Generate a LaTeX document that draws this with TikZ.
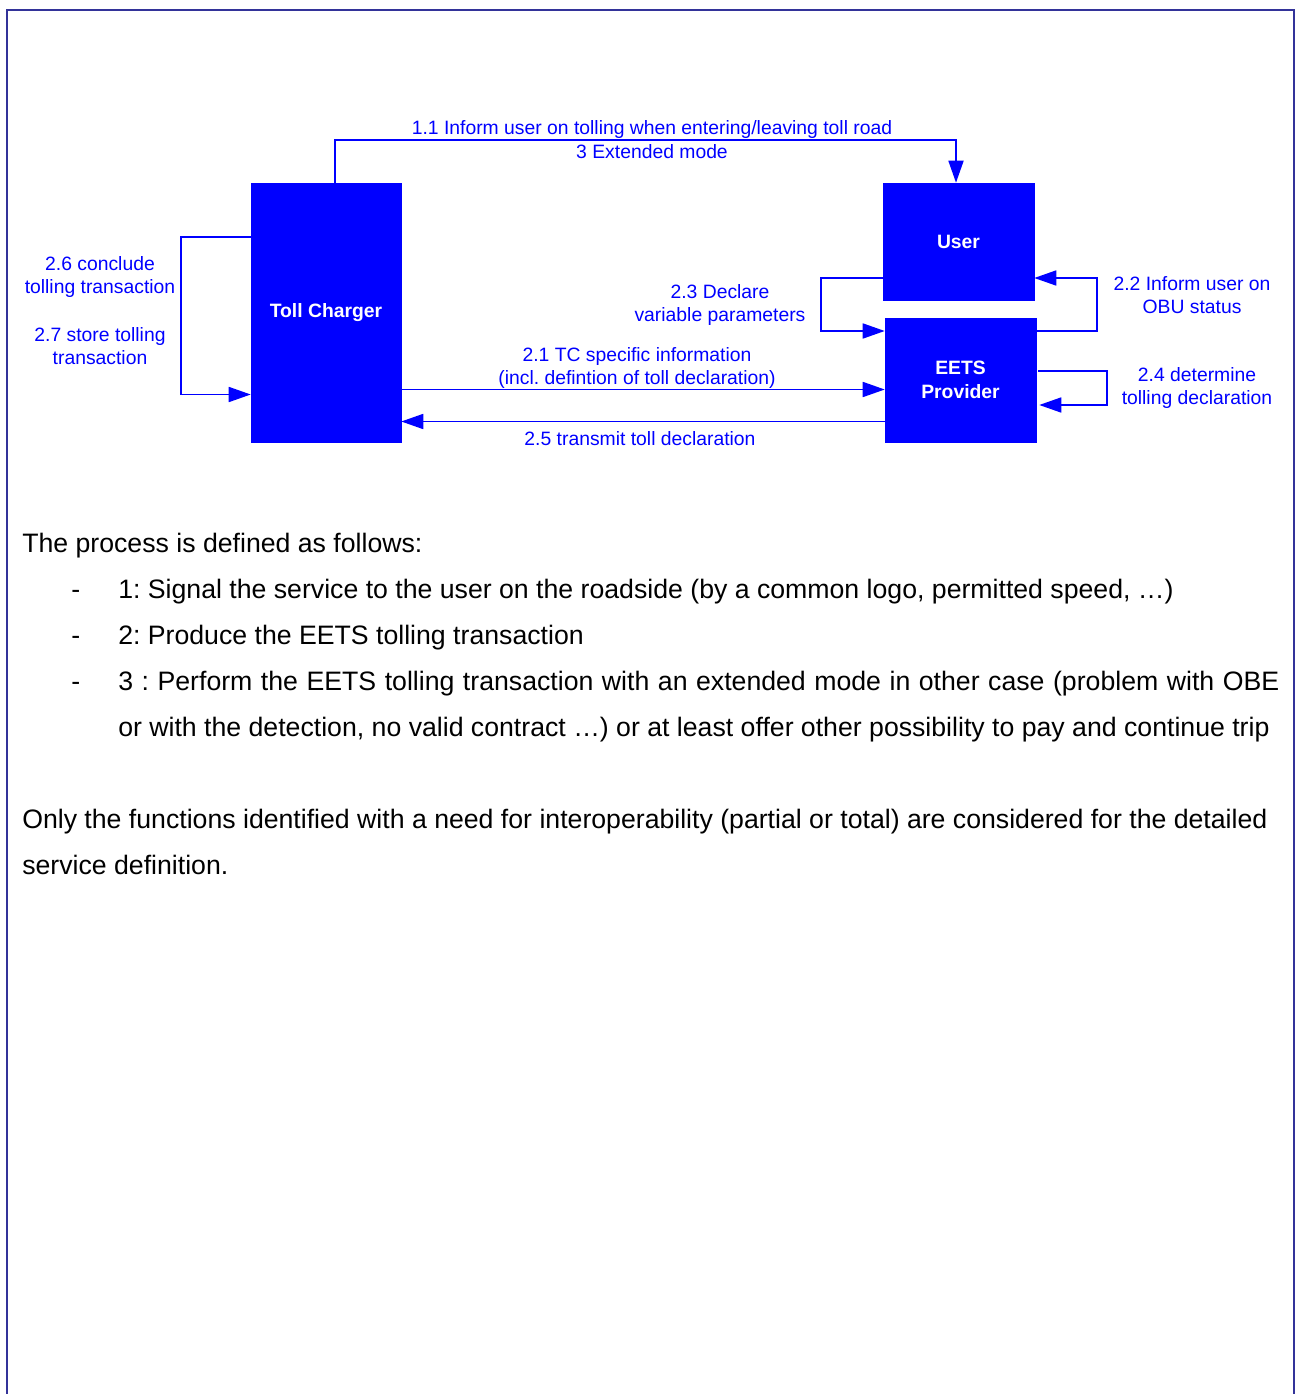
\documentclass[tikz,border=0pt]{standalone}
\usepackage{fontspec}
\setmainfont{Liberation Sans}
\usetikzlibrary{arrows.meta,calc}
\definecolor{framecol}{RGB}{51,51,153}
\definecolor{flowblue}{RGB}{0,0,255}
\frenchspacing
\begin{document}
\begin{tikzpicture}[x=0.75pt,y=0.75pt,
  actor/.style={draw=flowblue, fill=flowblue, text=white, font=\fontsize{14.5}{17.5}\selectfont\bfseries, inner sep=0pt, align=center},
  flow/.style={draw=flowblue, line width=1.3pt, -{Triangle[length=16.5pt,width=11.25pt]}},
  lbl/.style={text=flowblue, font=\fontsize{14.5}{17.25}\selectfont, align=center, inner sep=0pt},
  body/.style={anchor=base west, inner sep=0pt, font=\fontsize{20}{24}\selectfont}]
\useasboundingbox (0,0) rectangle (1302,-1394);

% page frame, open at the bottom
\draw[framecol, line width=1.5pt] (7,-1394) -- (7,-10) -- (1294,-10) -- (1294,-1394);

% actors
\node[actor, minimum width=112.5pt, minimum height=194.25pt] (tc) at (326,-312.5) {Toll Charger};
\node[actor, minimum width=113.25pt, minimum height=87.75pt] (user) at (958.5,-241.5) {User};
\node[actor, minimum width=113.25pt, minimum height=93pt] (eets) at (960.5,-380) {EETS\\Provider};

% flow end points
\coordinate (a21) at ($(tc.east)+(0,-77)$);
\coordinate (a25) at ($(eets.west)+(0,-41.5)$);

% flows
\draw[flow] ($(tc.north)+(9,0)$) -- ++(0,43) -| ($(user.north)+(-2.5,0)$);
\draw[flow] ($(tc.west)+(0,75.5)$) -- ++(-70,0) |- ($(tc.west)+(0,-82)$);
\draw[flow] (a21) -- (a21 -| eets.west);
\draw[flow] (a25) -- (a25 -| tc.east);
\draw[flow] ($(user.west)+(0,-36.5)$) -- ++(-62,0) |- ($(eets.west)+(0,49)$);
\draw[flow] ($(eets.east)+(0,49)$) -- ++(61,0) |- ($(user.east)+(0,-36.5)$);
\draw[flow] ($(eets.east)+(2,9)$) -- ++(69,0) |- ($(eets.east)+(3,-25)$);

% flow labels
\node[lbl] (l11) at (652,-130) {1.1 Inform user on tolling when entering/leaving toll road};
\node[lbl] (l3) at (652,-152) {3 Extended mode};
\node[lbl] (l26) at (100,-277.5) {2.6 conclude\\tolling transaction};
\node[lbl] (l27) at (100,-346.5) {2.7 store tolling\\transaction};
\node[lbl] (l23) at (720,-305.5) {2.3 Declare\\variable parameters};
\node[lbl] (l21) at (637,-367.5) {2.1 TC specific information\\(incl. defintion of toll declaration)};
\node[lbl] (l25) at (640,-439) {2.5 transmit toll declaration};
\node[lbl] (l22) at (1192,-295) {2.2 Inform user on\\OBU status};
\node[lbl] (l24) at (1197,-388) {2.4 determine\\tolling declaration};

% explanatory text
\node[body] (t0) at (22,-552.5) {The process is defined as follows:};
\node[body] (d1) at (71,-598.5) {-};
\node[body] (t1) at (118,-598.5) {1: Signal the service to the user on the roadside (by a common logo, permitted speed, …)};
\node[body] (d2) at (71,-644.5) {-};
\node[body] (t2) at (118,-644.5) {2: Produce the EETS tolling transaction};
\node[body] (d3) at (71,-690.5) {-};
\node[body] (t3) at (118,-690.5) {\makebox[870.75pt][s]{3 : Perform the EETS tolling transaction with an extended mode in other case (problem with OBE}};
\node[body] (t4) at (118,-736.5) {or with the detection, no valid contract …) or at least offer other possibility to pay and continue trip};
\node[body] (t5) at (22,-828.5) {Only the functions identified with a need for interoperability (partial or total) are considered for the detailed};
\node[body] (t6) at (22,-874.5) {service definition.};
\end{tikzpicture}
\end{document}
